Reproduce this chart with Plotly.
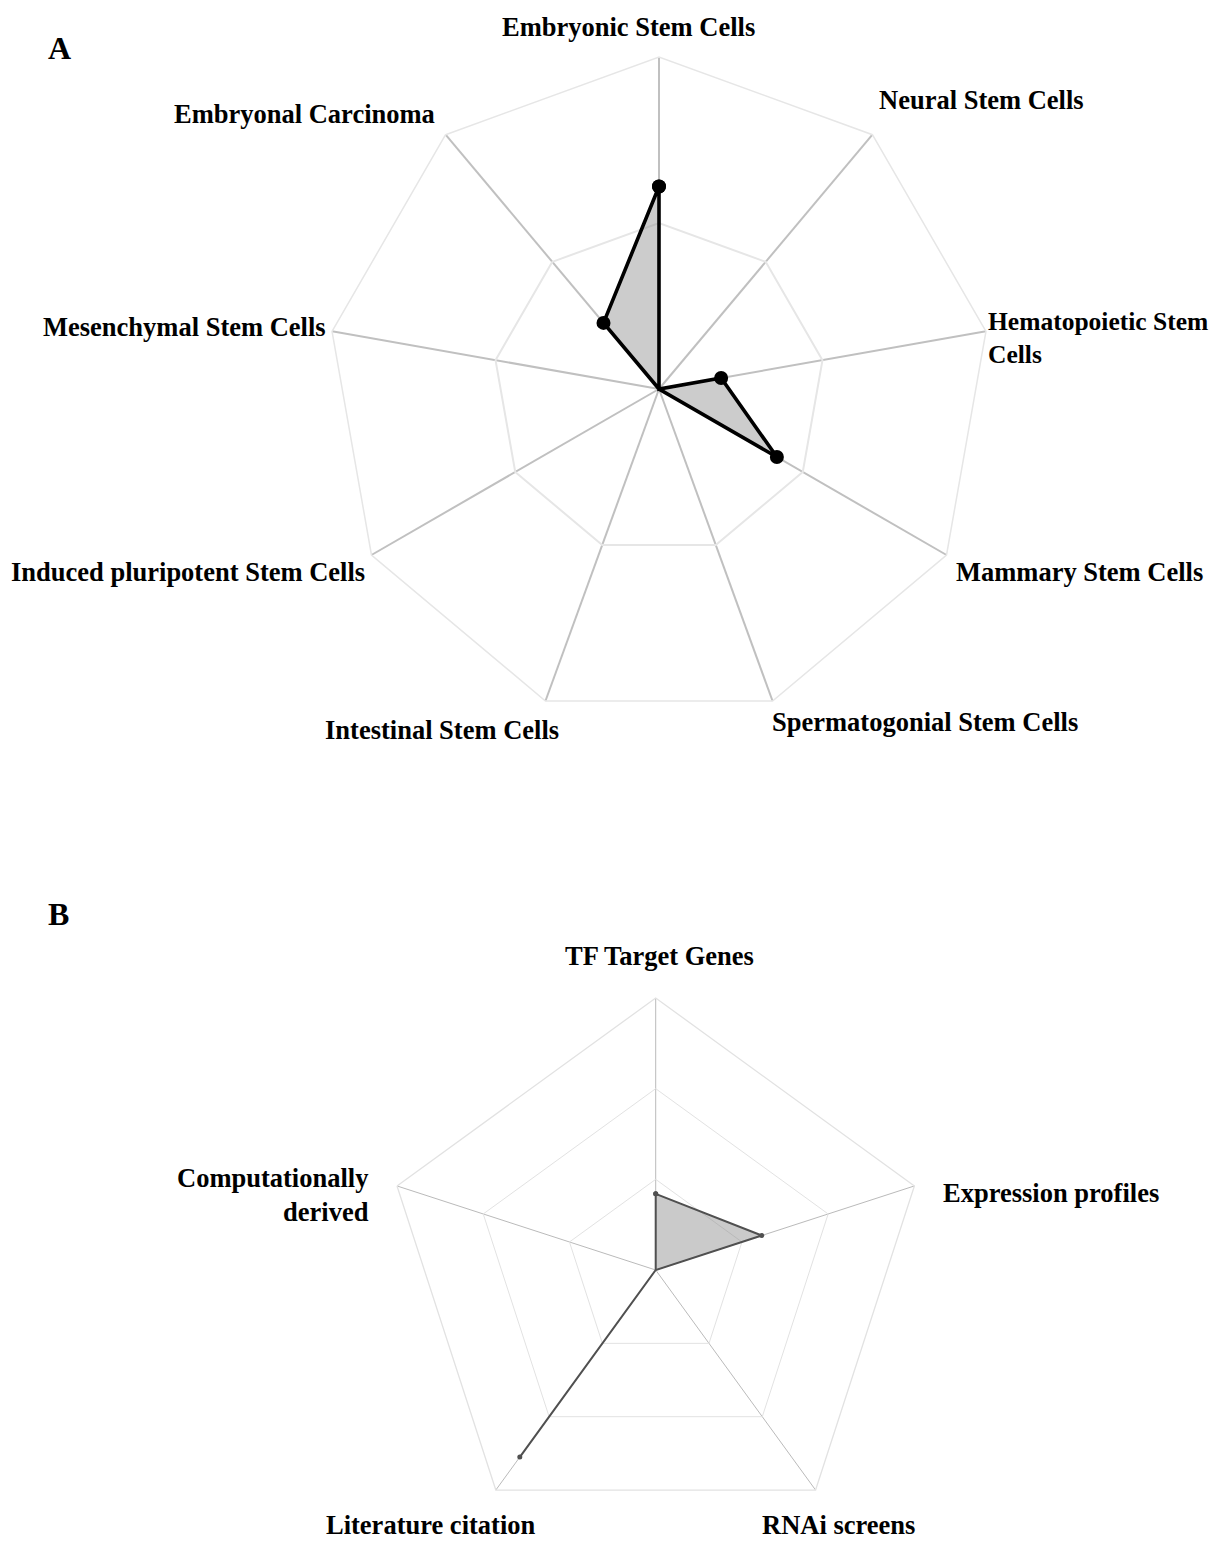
import plotly.graph_objects as go

# ---------------- data ----------------
cats_a = ["Embryonic Stem Cells", "Neural Stem Cells", "Hematopoietic Stem Cells",
          "Mammary Stem Cells", "Spermatogonial Stem Cells", "Intestinal Stem Cells",
          "Induced pluripotent Stem Cells", "Mesenchymal Stem Cells", "Embryonal Carcinoma"]
vals_a = [0.61, 0.0, 0.19, 0.41, 0.0, 0.0, 0.0, 0.0, 0.26]

cats_b = ["TF Target Genes", "Expression profiles", "RNAi screens",
          "Literature citation", "Computationally derived"]
vals_b = [0.28, 0.41, 0.0, 0.85, 0.0]

rings_a = [0.5]
rings_b = [1 / 3, 2 / 3]

# ---------------- layout helpers ----------------
PAGE_W, PAGE_H = 1223, 1550
BODY = 8                      # default page margin around the plot div
W, H = PAGE_W - 2 * BODY, PAGE_H - 2 * BODY
FONT = "Liberation Serif, Times New Roman, serif"


def px(x):
    """page pixel x -> paper fraction"""
    return (x - BODY) / W


def py(y):
    """page pixel y -> paper fraction"""
    return 1 - (y - BODY) / H


# chart A geometry (page pixels)
A_CX, A_CY, A_R = 659, 389, 332
# chart B geometry (page pixels) – radius limited by the figure bottom
B_R = 272
B_CX, B_CY = 655.7, PAGE_H - BODY - B_R

fig = go.Figure()

fig.add_trace(go.Scatterpolar(
    r=vals_a + [vals_a[0]], theta=cats_a + [cats_a[0]],
    mode="lines+markers", fill="toself",
    fillcolor="rgba(128,128,128,0.40)",
    line=dict(color="#000000", width=3.6),
    marker=dict(color="#000000", size=14),
    subplot="polar", showlegend=False, hoverinfo="skip", cliponaxis=False))

fig.add_trace(go.Scatterpolar(
    r=vals_b + [vals_b[0]], theta=cats_b + [cats_b[0]],
    mode="lines+markers", fill="toself",
    fillcolor="rgba(128,128,128,0.42)",
    line=dict(color="#505050", width=2),
    marker=dict(color="#505050", size=5),
    subplot="polar2", showlegend=False, hoverinfo="skip", cliponaxis=False))

fig.update_layout(
    width=W, height=H, margin=dict(l=0, r=0, t=0, b=0),
    paper_bgcolor="white", plot_bgcolor="white",
    polar=dict(
        domain=dict(x=[px(A_CX - A_R), px(A_CX + A_R)],
                    y=[py(A_CY + A_R), py(A_CY - A_R)]),
        gridshape="linear", bgcolor="white",
        radialaxis=dict(range=[0, 1], tickvals=rings_a, showticklabels=False,
                        ticks="", showline=False, gridcolor="#e6e6e6", gridwidth=1.5),
        angularaxis=dict(type="category", categoryarray=cats_a, rotation=90,
                         direction="clockwise", showticklabels=False, ticks="",
                         showline=True, linecolor="#e6e6e6", linewidth=1.5,
                         gridcolor="#c0c0c0", gridwidth=1.7),
    ),
    polar2=dict(
        domain=dict(x=[px(B_CX - B_R), px(B_CX + B_R)],
                    y=[max(0, py(B_CY + B_R)), py(B_CY - B_R)]),
        gridshape="linear", bgcolor="white",
        radialaxis=dict(range=[0, 1], tickvals=rings_b, showticklabels=False,
                        ticks="", showline=False, gridcolor="#e2e2e2", gridwidth=1.3),
        angularaxis=dict(type="category", categoryarray=cats_b, rotation=90,
                         direction="clockwise", showticklabels=False, ticks="",
                         showline=True, linecolor="#e2e2e2", linewidth=1.3,
                         gridcolor="#bababa", gridwidth=1.3),
    ),
)

# ---------------- labels ----------------
label_pos_a = [
    (628.5, 27, "center", 26.5),
    (877, 100, "left", 26.5),
    (986, 338, "left", 25.5),
    (954, 572, "left", 26.5),
    (770, 722, "left", 26.5),
    (561, 730, "right", 26.5),
    (367, 572, "right", 26.5),
    (328, 327, "right", 26.5),
    (437, 114, "right", 26.5),
]
label_text_a = ["Embryonic Stem Cells", "Neural Stem Cells", "Hematopoietic Stem<br>Cells",
                "Mammary Stem Cells", "Spermatogonial Stem Cells", "Intestinal Stem Cells",
                "Induced pluripotent Stem Cells", "Mesenchymal Stem Cells", "Embryonal Carcinoma"]
label_pos_b = [
    (659, 956, "center", 26.5),
    (941, 1193, "left", 26.5),
    (760, 1525, "left", 26.5),
    (538, 1525, "right", 26.5),
    (371, 1195, "right", 26.5),
]
label_text_b = ["TF Target Genes", "Expression profiles", "RNAi screens",
                "Literature citation", "Computationally<br>derived"]

annots = []
for txt, (x, y, xa, fs) in list(zip(label_text_a, label_pos_a)) + list(zip(label_text_b, label_pos_b)):
    annots.append(dict(x=px(x), y=py(y), xref="paper", yref="paper", text="<b>" + txt + "</b>",
                       showarrow=False, xanchor=xa, yanchor="middle", align=xa,
                       font=dict(family=FONT, size=fs, color="black")))
for letter, (x, y) in [("A", (46, 48)), ("B", (46, 914))]:
    annots.append(dict(x=px(x), y=py(y), xref="paper", yref="paper", text="<b>" + letter + "</b>",
                       showarrow=False, xanchor="left", yanchor="middle",
                       font=dict(family=FONT, size=32, color="black")))
fig.update_layout(annotations=annots)

fig.write_html("out.html")
